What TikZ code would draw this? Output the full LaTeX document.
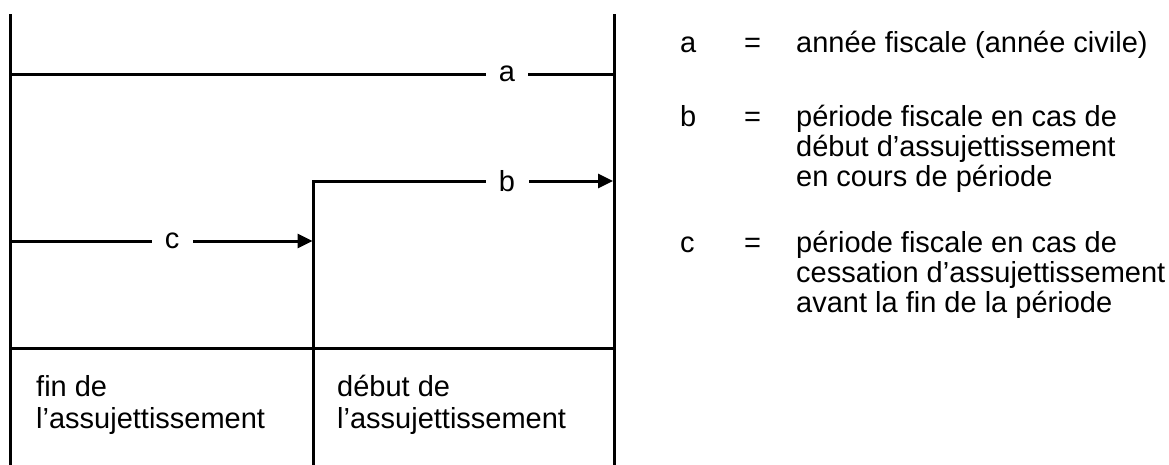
\documentclass[tikz,border=0pt]{standalone}
\usepackage{fontspec}
\setmainfont{Liberation Sans}
\usetikzlibrary{arrows.meta}
\begin{document}
\begin{tikzpicture}[x=1pt,y=-1pt,
  rule/.style={line width=3pt, line cap=rect},
  arr/.style={line width=3pt, -{Triangle[length=15pt,width=14pt]}},
  lbl/.style={font=\fontsize{29}{30}\selectfont, inner xsep=14pt, inner ysep=0pt},
  txt/.style={font=\fontsize{29}{30}\selectfont, anchor=base west, inner sep=0pt}]
  \useasboundingbox (0,0) rectangle (1169,464);
  % frame of the time axis
  \coordinate (lt) at (10.5,15);  \coordinate (lb0) at (10.5,470);
  \coordinate (rt) at (614,15);   \coordinate (rb0) at (614,470);
  \coordinate (mt) at (313.5,181); \coordinate (mb0) at (313.5,470);
  \coordinate (dl) at (10.5,348); \coordinate (dr) at (614,348);
  \draw[rule] (lt) -- (lb0);
  \draw[rule] (rt) -- (rb0);
  \draw[rule] (mt) -- (mb0);
  \draw[rule] (dl) -- (dr);
  % period a
  \node[lbl] (la) at (507,74) {a};
  \coordinate (a0) at (10.5,74); \coordinate (a1) at (614,74);
  \draw[rule] (a0) -- (la.west);
  \draw[rule] (la.east) -- (a1);
  % period b
  \node[lbl] (lbb) at (507,181) {b};
  \coordinate (b1) at (613,181);
  \draw[rule] (mt) -- (lbb.west);
  \draw[arr] (lbb.east) -- (b1);
  % period c
  \node[lbl] (lc) at (172,241) {c};
  \coordinate (c0) at (10.5,241); \coordinate (c1) at (312.5,241);
  \draw[rule] (c0) -- (lc.west);
  \draw[arr] (lc.east) -- (c1);
  % captions under the axis
  \node[txt] (f1) at (36,396) {fin de};
  \node[txt] (f2) at (36,428) {l’assujettissement};
  \node[txt] (d1) at (337,396) {début de};
  \node[txt] (d2) at (337,428) {l’assujettissement};
  % legend
  \node[txt] (ka) at (680,52) {a};
  \node[txt] (ea) at (744,52) {=};
  \node[txt] (ta) at (796,52) {année fiscale (année civile)};
  \node[txt] (kb) at (680,126) {b};
  \node[txt] (eb) at (744,126) {=};
  \node[txt] (tb1) at (796,126) {période fiscale en cas de};
  \node[txt] (tb2) at (796,156) {début d’assujettissement};
  \node[txt] (tb3) at (796,186) {en cours de période};
  \node[txt] (kc) at (680,252) {c};
  \node[txt] (ec) at (744,252) {=};
  \node[txt] (tc1) at (796,252) {période fiscale en cas de};
  \node[txt] (tc2) at (796,282) {cessation d’assujettissement};
  \node[txt] (tc3) at (796,312) {avant la fin de la période};
\end{tikzpicture}
\end{document}
